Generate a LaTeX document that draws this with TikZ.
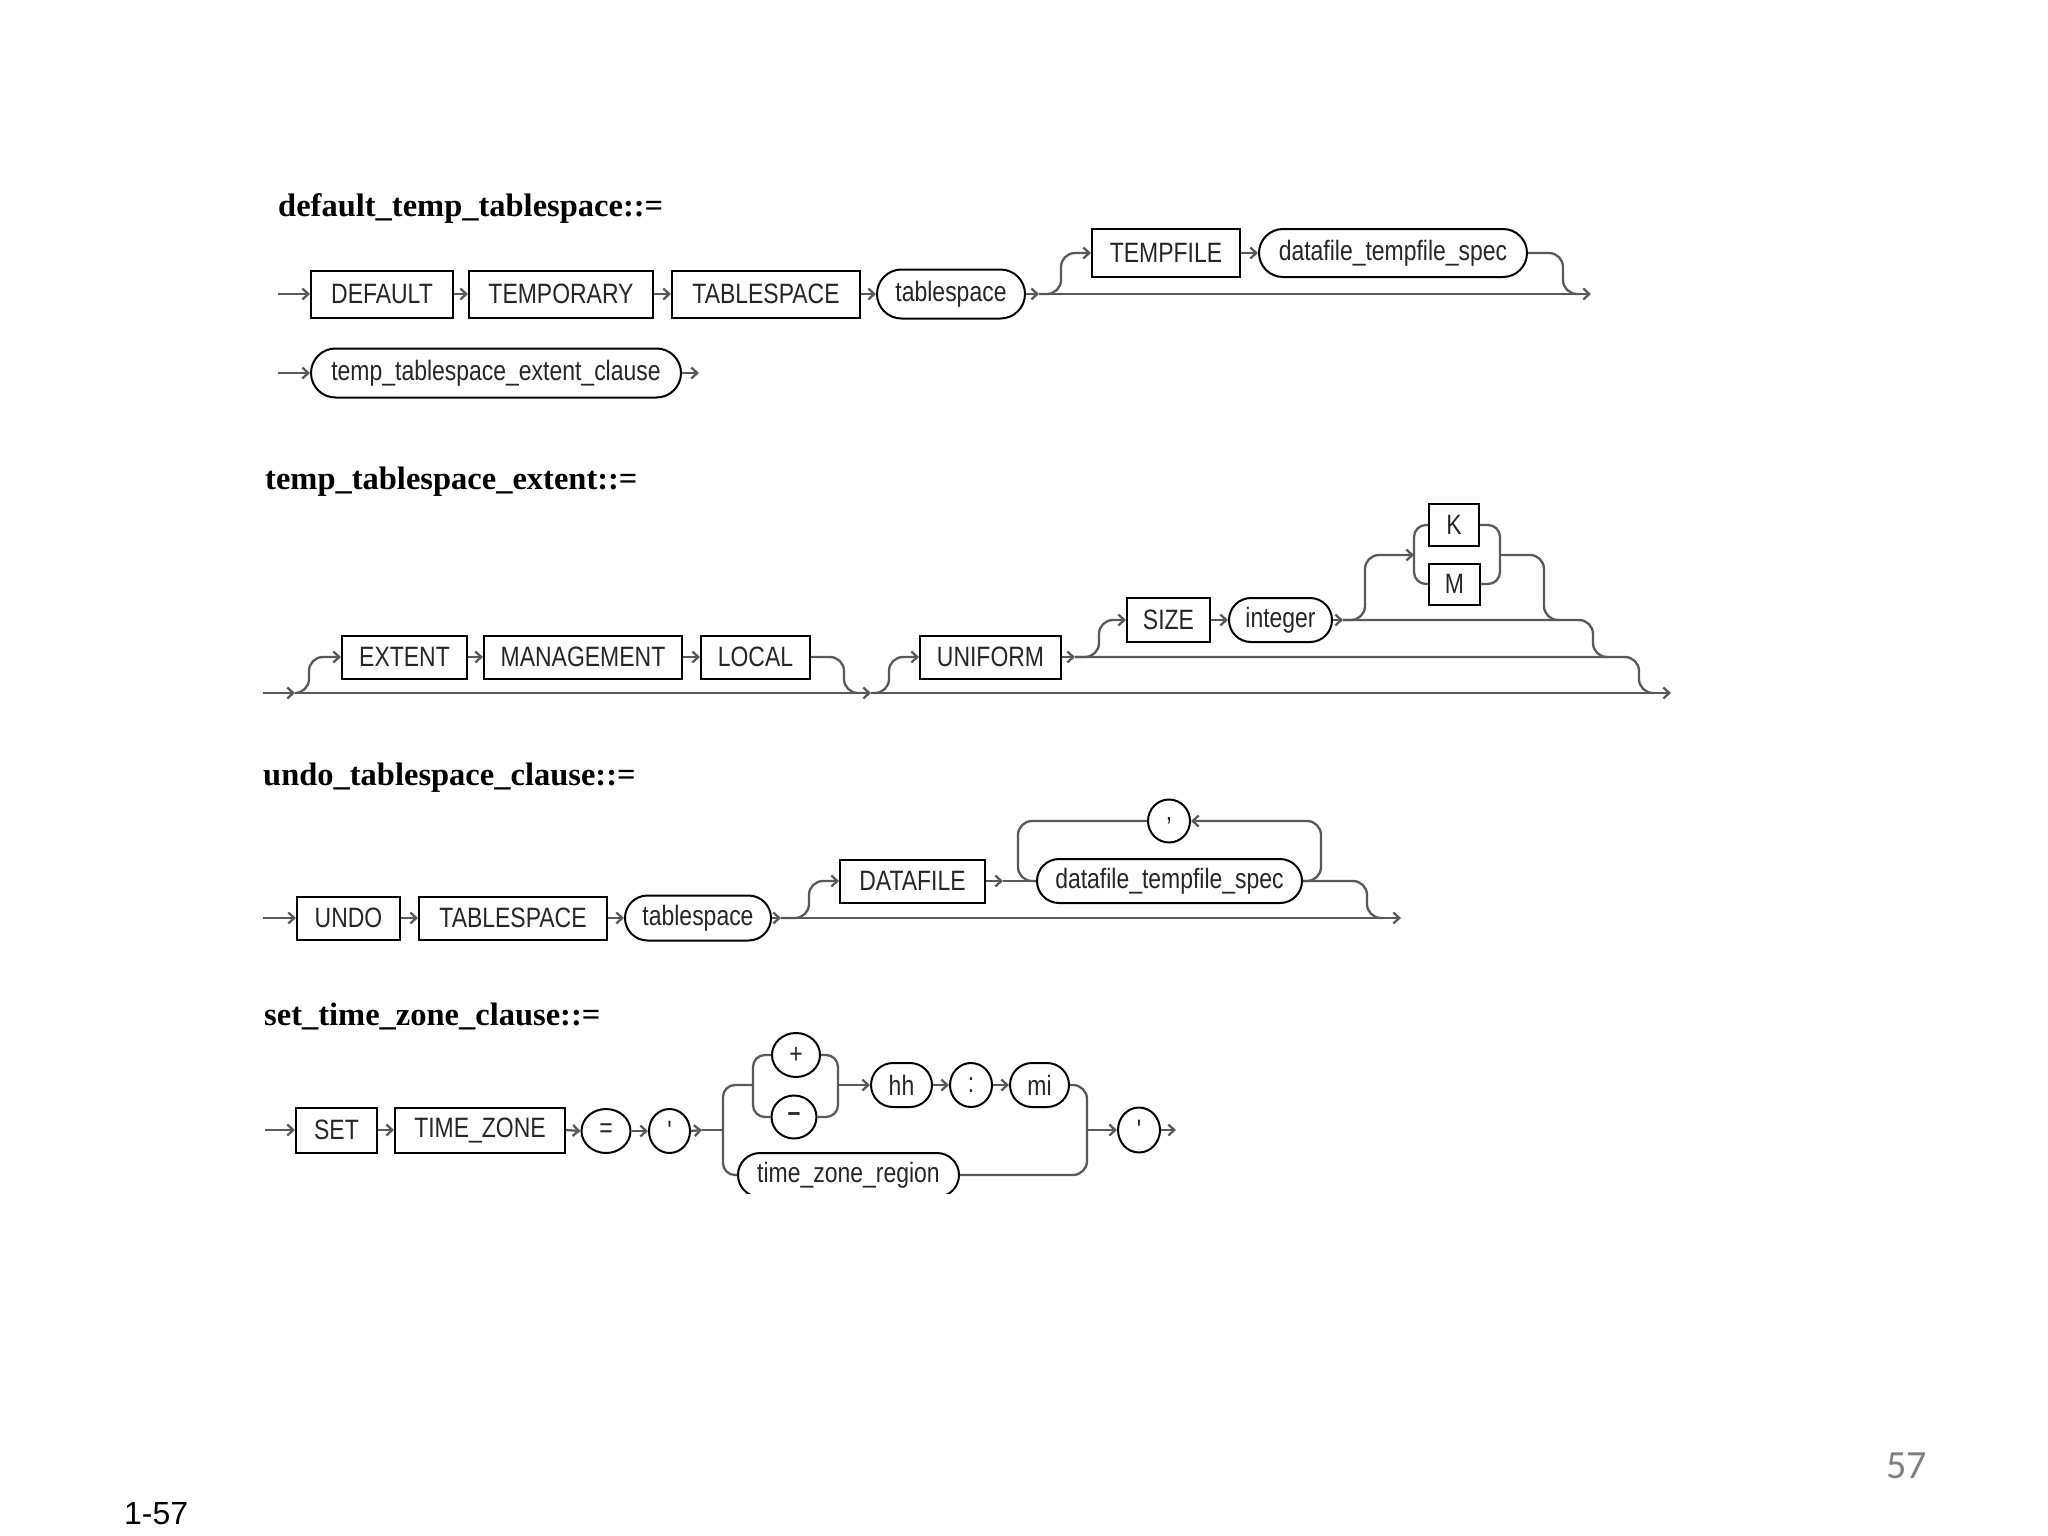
\documentclass[tikz,border=0pt]{standalone}
\usepackage{fontspec}
\usetikzlibrary{shapes.misc,shapes.geometric,arrows.meta,calc}
\newfontfamily\boxfont[FakeStretch=0.82,Ligatures=TeXOff]{Liberation Sans}
\newfontfamily\ttlfont{Liberation Serif}
\newfontfamily\pgfont{Liberation Sans}
\newfontfamily\slidefont{Carlito}
\begin{document}
\begin{tikzpicture}[x=1pt,y=-1pt,
  kw/.style={draw=black,line width=2pt,rectangle,inner sep=0pt,font=\boxfont\fontsize{28}{30}\selectfont,text=black!85},
  nt/.style={draw=black,line width=2pt,rounded rectangle,inner sep=0pt,font=\boxfont\fontsize{28}{30}\selectfont,text=black!85},
  lit/.style={draw=black,line width=2pt,ellipse,inner sep=0pt,font=\boxfont\fontsize{28}{30}\selectfont,text=black!85},
  conn/.style={line width=2.3pt,draw=black!65},
  arr/.style={conn,-{Straight Barb[length=6pt,width=11pt]}},
  rc/.style={rounded corners=14pt},
  rcs/.style={rounded corners=12pt},
  ttl/.style={anchor=base west,inner sep=0pt,font=\ttlfont\bfseries\fontsize{32.5}{34}\selectfont},
  wh/.style={minimum width=#1},
]
\path[fill=white] (0,0) rectangle (2048,1536);

% ---------------- default_temp_tablespace ----------------
\node[ttl] (t1) at (278,216) {default\_temp\_tablespace::=};
\node[kw,minimum width=142pt,minimum height=47pt] (d1def) at (382,294) {DEFAULT};
\node[kw,minimum width=184pt,minimum height=47pt] (d1tmp) at (561,294) {TEMPORARY};
\node[kw,minimum width=188pt,minimum height=47pt] (d1tbs) at (766,294) {TABLESPACE};
\node[nt,minimum width=148pt,minimum height=49pt] (d1ts) at (951,294) {tablespace};
\node[kw,minimum width=148pt,minimum height=48pt] (d1tf) at (1166,253) {TEMPFILE};
\node[nt,minimum width=268pt,minimum height=48pt] (d1dts) at (1393,253) {datafile\_tempfile\_spec};
\node[nt,minimum width=370pt,minimum height=49pt] (d1ttec) at (496,373) {temp\_tablespace\_extent\_clause};
\coordinate (s1) at (278,294);
\coordinate (j1) at (1039,294);
\coordinate (e1) at (1591,294);
\coordinate (m1) at (1563,294);
\coordinate (s1b) at (278,373);
\coordinate (e1b) at (699,373);

\draw[arr] (s1) -- (d1def.west);
\draw[arr] (d1def.east) -- (d1tmp.west);
\draw[arr] (d1tmp.east) -- (d1tbs.west);
\draw[arr] (d1tbs.east) -- (d1ts.west);
\draw[arr] (d1ts.east) -- (j1);
\draw[arr] (j1) -- (e1);
\draw[arr,rc] (j1) -| ($(d1tf.west)+(-30,0)$) -- (d1tf.west);
\draw[arr] (d1tf.east) -- (d1dts.west);
\draw[conn,rc] (d1dts.east) -| (m1) -- ++(16,0);
\draw[arr] (s1b) -- (d1ttec.west);
\draw[arr] (d1ttec.east) -- (e1b);

% ---------------- temp_tablespace_extent ----------------
\node[ttl] (t2) at (265,489) {temp\_tablespace\_extent::=};
\node[kw,minimum width=125pt,minimum height=43pt] (d2ext) at (404.5,657) {EXTENT};
\node[kw,minimum width=198pt,minimum height=43pt] (d2mgmt) at (583,657) {MANAGEMENT};
\node[kw,minimum width=109pt,minimum height=43pt] (d2loc) at (755.5,657) {LOCAL};
\node[kw,minimum width=141pt,minimum height=43pt] (d2uni) at (990.5,657) {UNIFORM};
\node[kw,minimum width=83pt,minimum height=44pt] (d2size) at (1168.5,620) {SIZE};
\node[nt,minimum width=103pt,minimum height=44pt] (d2int) at (1280.5,620) {integer};
\node[kw,minimum width=50pt,minimum height=42pt] (d2k) at (1454,525) {K};
\node[kw,minimum width=51pt,minimum height=41pt] (d2m) at (1454.5,584) {M};
\coordinate (s2) at (263,693);
\coordinate (j2a) at (295,693);
\coordinate (j2b) at (871,693);
\coordinate (e2) at (1671,693);
\coordinate (j2c) at (1075,657);
\coordinate (j2d) at (1343,620);
\coordinate (lb) at (1414,555);
\coordinate (rb) at (1500,555);
\coordinate (m2loc) at (844,693);
\coordinate (m2a) at (1639,693);
\coordinate (m2b) at (1593,657);
\coordinate (m2c) at (1544,620);

\draw[arr] (s2) -- (j2a);
\draw[arr] (j2a) -- (j2b);
\draw[arr] (j2b) -- (e2);
\draw[arr,rc] (j2a) -| ($(d2ext.west)+(-32,0)$) -- (d2ext.west);
\draw[arr] (d2ext.east) -- (d2mgmt.west);
\draw[arr] (d2mgmt.east) -- (d2loc.west);
\draw[conn,rc] (d2loc.east) -| (m2loc) -- ++(15,0);
\draw[arr,rc] (j2b) -| ($(d2uni.west)+(-30,0)$) -- (d2uni.west);
\draw[arr] (d2uni.east) -- (j2c);
\draw[conn,rc] (j2c) -| (m2a) -- ++(16,0);
\draw[arr,rc] (j2c) -| ($(d2size.west)+(-27,0)$) -- (d2size.west);
\draw[arr] (d2size.east) -- (d2int.west);
\draw[arr] (d2int.east) -- (j2d);
\draw[conn,rc] (j2d) -| (m2b) -- ++(15,0);
\draw[arr,rc] (j2d) -| ($(lb)+(-49,0)$) -- (lb);
\draw[conn,rcs] (d2k.west) -| (lb) |- (d2m.west);
\draw[conn,rcs] (d2k.east) -| (rb) |- (d2m.east);
\draw[conn,rc] (rb) -| (m2c) -- ++(15,0);

% ---------------- undo_tablespace_clause ----------------
\node[ttl] (t3) at (263,785) {undo\_tablespace\_clause::=};
\node[kw,minimum width=103pt,minimum height=43pt] (d3undo) at (348.5,918) {UNDO};
\node[kw,minimum width=188pt,minimum height=43pt] (d3tbs) at (513,918) {TABLESPACE};
\node[nt,minimum width=146pt,minimum height=45pt] (d3ts) at (698,918) {tablespace};
\node[kw,minimum width=145pt,minimum height=43pt] (d3df) at (912.5,881) {DATAFILE};
\node[nt,minimum width=265pt,minimum height=44pt] (d3dts) at (1169.5,881) {datafile\_tempfile\_spec};
\node[lit,minimum width=42pt,minimum height=43pt] (d3com) at (1169,821) {,};
\coordinate (s3) at (263,918);
\coordinate (j3a) at (781,918);
\coordinate (e3) at (1401,918);
\coordinate (j3b) at (1003,881);
\coordinate (lpl) at (1018,881);
\coordinate (lpr) at (1321,821);
\coordinate (m3) at (1367,918);

\draw[arr] (s3) -- (d3undo.west);
\draw[arr] (d3undo.east) -- (d3tbs.west);
\draw[arr] (d3tbs.east) -- (d3ts.west);
\draw[arr] (d3ts.east) -- (j3a);
\draw[arr] (j3a) -- (e3);
\draw[arr,rc] (j3a) -| ($(d3df.west)+(-30,0)$) -- (d3df.west);
\draw[arr] (d3df.east) -- (j3b);
\draw[conn] (j3b) -- (d3dts.west);
\draw[conn,rc] (d3com.west) -| (lpl) -- (d3dts.west);
\draw[arr,rc] (d3dts.east) -| (lpr) -- (d3com.east);
\draw[conn,rc] (d3dts.east) -| (m3) -- ++(16,0);

% ---------------- set_time_zone_clause ----------------
\node[ttl] (t4) at (264,1025) {set\_time\_zone\_clause::=};
\node[kw,minimum width=81pt,minimum height=45pt] (d4set) at (336.5,1130) {SET};
\node[kw,minimum width=170pt,minimum height=45pt] (d4tz) at (480,1130) {TIME\_ZONE};
\node[lit,minimum width=49pt,minimum height=44pt] (d4eq) at (606,1131) {=};
\node[lit,minimum width=41pt,minimum height=44pt] (d4q1) at (669.5,1131) {'};
\node[lit,minimum width=48pt,minimum height=44pt] (d4plus) at (796,1055) {+};
\node[lit,minimum width=45pt,minimum height=43pt] (d4minus) at (794,1117) {\bfseries –};
\node[nt,minimum width=61pt,minimum height=44pt] (d4hh) at (901.5,1085) {hh};
\node[lit,minimum width=42pt,minimum height=44pt] (d4col) at (971,1085) {:};
\node[nt,minimum width=59pt,minimum height=44pt] (d4mi) at (1039.5,1085) {mi};
\node[lit,minimum width=42pt,minimum height=45pt] (d4q2) at (1139,1130) {'};
\begin{scope}
\clip (700,1140) rectangle (1000,1193);
\node[nt,minimum width=221pt,minimum height=44pt] (d4tzr) at (848.5,1175) {time\_zone\_region};
\end{scope}
\coordinate (s4) at (265,1130);
\coordinate (j4a) at (702,1130);
\coordinate (jl) at (723,1130);
\coordinate (plb) at (753,1085);
\coordinate (prb) at (838,1085);
\coordinate (jr) at (1087,1130);
\coordinate (e4) at (1176,1130);

\draw[arr] (s4) -- (d4set.west);
\draw[arr] (d4set.east) -- (d4tz.west);
\draw[arr] (d4tz.east) -- (d4eq.west);
\draw[arr] (d4eq.east) -- (d4q1.west);
\draw[arr] (d4q1.east) -- (j4a);
\draw[conn] (j4a) -- (jl);
\draw[conn,rcs] (plb) -| (jl) |- (d4tzr.west);
\draw[conn,rcs] (d4plus.west) -| (plb) |- (d4minus.west);
\draw[conn,rcs] (d4plus.east) -| (prb) |- (d4minus.east);
\draw[arr] (prb) -- (d4hh.west);
\draw[arr] (d4hh.east) -- (d4col.west);
\draw[arr] (d4col.east) -- (d4mi.west);
\draw[conn,rc] (d4mi.east) -| (jr);
\draw[conn,rc] (d4tzr.east) -| (jr);
\draw[arr] (jr) -- (d4q2.west);
\draw[arr] (d4q2.east) -- (e4);

% ---------------- page labels ----------------
\node[anchor=base west,inner sep=0pt,font=\pgfont\fontsize{32}{34}\selectfont] (pg1) at (124,1524) {1-57};
\node[anchor=base west,inner sep=0pt,font=\slidefont\fontsize{40}{42}\selectfont,text=black!50] (pg2) at (1886,1478) {57};
\end{tikzpicture}
\end{document}
